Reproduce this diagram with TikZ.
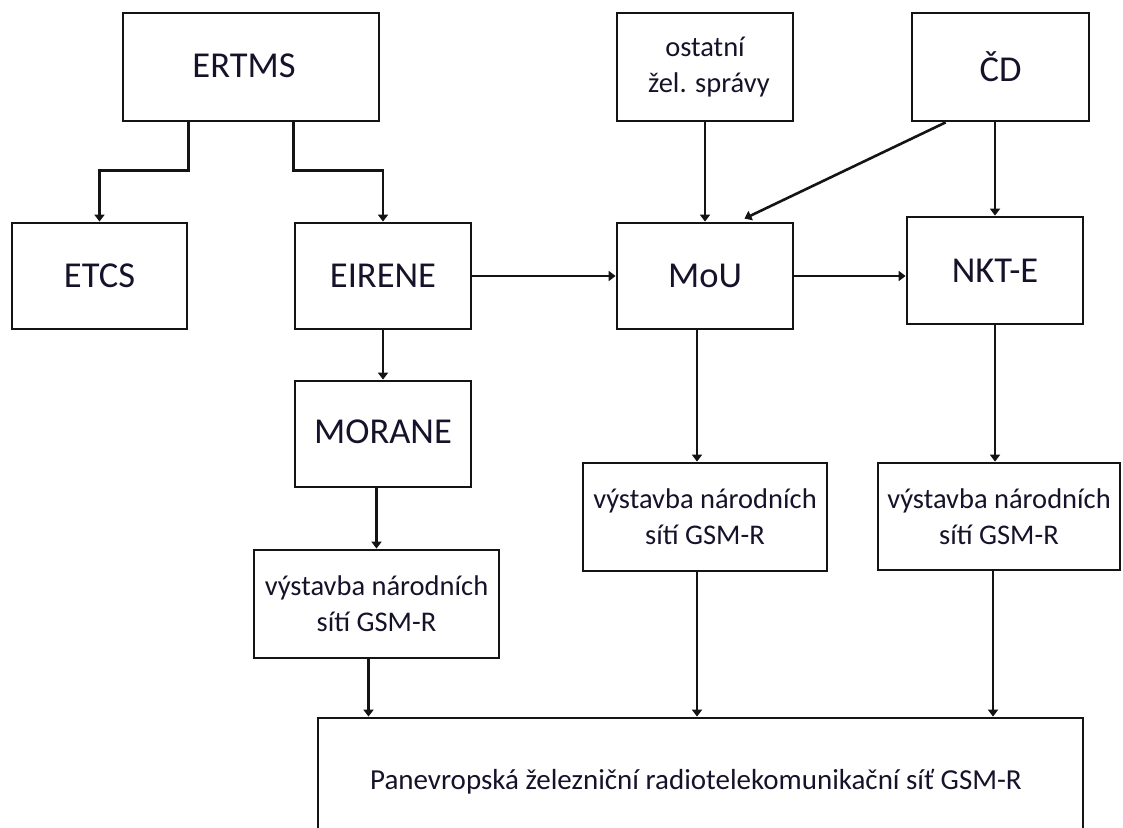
\documentclass[tikz,border=0pt]{standalone}
\usepackage{fontspec}
\setmainfont{Carlito}
\usetikzlibrary{arrows.meta,calc}
\definecolor{boxcol}{HTML}{141414}
\definecolor{txtcol}{HTML}{16122A}
\begin{document}
\begin{tikzpicture}[x=1pt,y=-1pt,
  box/.style={draw=boxcol,line width=2.8pt,text=txtcol,inner sep=0pt,align=center},
  big/.style={font=\fontsize{36.5}{40}\selectfont},
  small/.style={font=\fontsize{28.5}{36}\selectfont},
  conn/.style={draw=boxcol,line width=2.6pt,-{Triangle[length=7pt,width=10pt]}}]
\useasboundingbox (0,0) rectangle (1123,827);
\clip (0,0) rectangle (1123,827);
% top row
\node[box,big,minimum width=256pt,minimum height=108pt] (ertms) at (251,67) {\raisebox{3pt}{ERTMS}\hspace*{14pt}};
\node[box,small,minimum width=176pt,minimum height=108pt] (ostatni) at (705,67) {ostatní\\ \hspace*{8pt}žel. správy};
\node[box,big,minimum width=177pt,minimum height=108pt] (cd) at (1000.5,67) {ČD};
% second row
\node[box,big,minimum width=175pt,minimum height=106pt] (etcs) at (99.5,276) {ETCS};
\node[box,big,minimum width=176pt,minimum height=106pt] (eirene) at (383,276) {EIRENE};
\node[box,big,minimum width=176pt,minimum height=106pt] (mou) at (705,276) {MoU};
\node[box,big,minimum width=176pt,minimum height=107pt] (nkte) at (995,270.5) {NKT-E};
% lower boxes
\node[box,big,minimum width=176pt,minimum height=106pt] (morane) at (383,434) {\raisebox{4pt}{MORANE}};
\node[box,small,minimum width=245pt,minimum height=108pt] (vystL) at (376.5,604) {výstavba národních\\ sítí GSM-R};
\node[box,small,minimum width=244pt,minimum height=108pt] (vystM) at (705,517) {výstavba národních\\ sítí GSM-R};
\node[box,small,minimum width=242pt,minimum height=107pt] (vystR) at (999,516.5) {výstavba národních\\ sítí GSM-R};
\node[box,font=\fontsize{29}{36}\selectfont,minimum width=765pt,minimum height=128pt] (pan) at (700.5,782) {Panevropská železniční radiotelekomunikační síť GSM-R\hspace*{9pt}};
% connectors
\draw[conn] (ertms.south -| etcs.east) -- ++(0,48) -| (etcs.north);
\draw[conn] (ertms.south -| eirene.west) -- ++(0,48) -| (eirene.north);
\draw[conn] (eirene.east) -- (mou.west);
\draw[conn] (mou.east) -- (mou.east -| nkte.west);
\draw[conn] (ostatni.south) -- (mou.north);
\draw[conn] (cd.south -| nkte.north) -- (nkte.north);
\draw[conn] ($(cd.south west)+(35,0)$) -- ($(mou.north east)+(-50,-3)$);
\draw[conn] (eirene.south) -- (morane.north);
\draw[conn] (morane.south -| vystL.north) -- (vystL.north);
\draw[conn] ($(mou.south)+(-8,0)$) -- ($(vystM.north)+(-8,0)$);
\draw[conn] (nkte.south) -- (nkte.south |- vystR.north);
\draw[conn] ($(vystL.south)+(-8,0)$) -- ($(vystL.south |- pan.north)+(-8,0)$);
\draw[conn] ($(vystM.south)+(-8,0)$) -- ($(vystM.south |- pan.north)+(-8,0)$);
\draw[conn] ($(vystR.south)+(-6,0)$) -- ($(vystR.south |- pan.north)+(-6,0)$);
\end{tikzpicture}
\end{document}
